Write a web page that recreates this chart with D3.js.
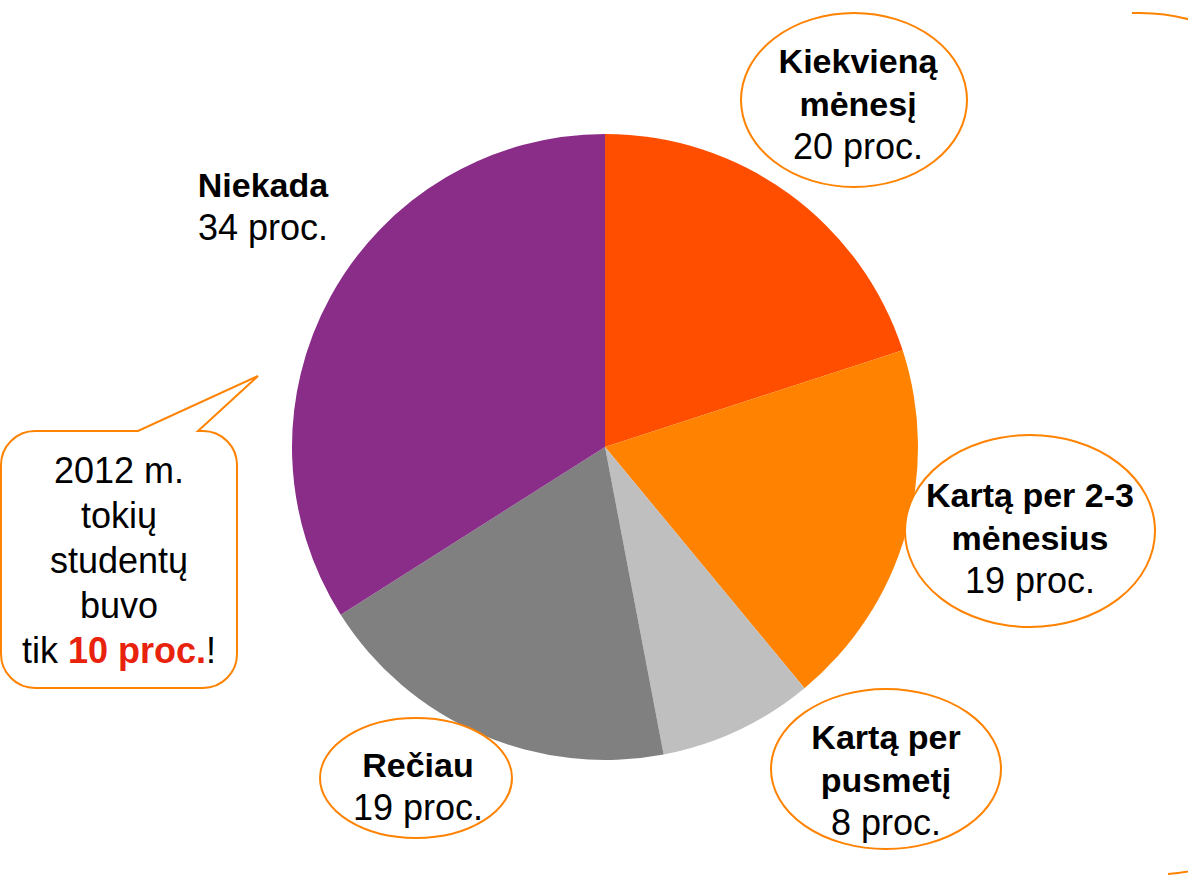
<!DOCTYPE html>
<html>
<head>
<meta charset="utf-8">
<script src="https://cdn.jsdelivr.net/npm/d3@7"></script>
<style>
  html, body { margin: 0; padding: 0; background: #fff; }
  svg { display: block; font-family: "Liberation Sans", Arial, sans-serif; }
</style>
</head>
<body>
<svg id="chart" width="1188" height="875"></svg>
<script>
// ---- data ----
const categories = ["Kiekvieną mėnesį", "Kartą per 2-3 mėnesius", "Kartą per pusmetį", "Rečiau", "Niekada"];
const values = [20, 19, 8, 19, 34];
const sliceColors = ["#FF4E00", "#FF8200", "#BFBFBF", "#808080", "#892D89"];
const labelBold = [["Kiekvieną", "mėnesį"], ["Kartą per 2-3", "mėnesius"], ["Kartą per", "pusmetį"], ["Rečiau"], ["Niekada"]];
const labelValue = ["20 proc.", "19 proc.", "8 proc.", "19 proc.", "34 proc."];
const noteLines = ["2012 m.", "tokių", "studentų", "buvo"];
const notePrefix = "tik ";
const noteHighlight = "10 proc.";
const noteSuffix = "!";

// ---- layout (positions / styles) ----
const cx = 605, cy = 447, R = 313;
const labelLayout = [
  { x: 858, y: 73, ellipse: { cx: 854, cy: 100, rx: 113, ry: 87 } },
  { x: 1030, y: 507, ellipse: { cx: 1030, cy: 531, rx: 125, ry: 96 } },
  { x: 886, y: 749, ellipse: { cx: 886, cy: 769, rx: 115, ry: 80 } },
  { x: 418, y: 777, ellipse: { cx: 416, cy: 778, rx: 96, ry: 60 } },
  { x: 263, y: 197, ellipse: null }
];
const lineH = 43;
const orange = "#FF8200";

const svg = d3.select("#chart");

// right-side partial frame (edges of a large rounded box)
svg.append("path")
  .attr("d", "M1132,13 H1140 A190,190 0 0 1 1330,203")
  .attr("fill", "none").attr("stroke", orange).attr("stroke-width", 2);
svg.append("path")
  .attr("d", "M1345,684 A190,190 0 0 1 1168,874")
  .attr("fill", "none").attr("stroke", orange).attr("stroke-width", 2);

// pie
const pie = d3.pie().sort(null).value(d => d)(values);
const arc = d3.arc().innerRadius(0).outerRadius(R);
svg.append("g").attr("transform", `translate(${cx},${cy})`)
  .selectAll("path").data(pie).join("path")
  .attr("d", arc)
  .attr("fill", (d, i) => sliceColors[i]);

// labels
categories.forEach((c, i) => {
  const L = labelLayout[i];
  if (L.ellipse) {
    svg.append("ellipse")
      .attr("cx", L.ellipse.cx).attr("cy", L.ellipse.cy)
      .attr("rx", L.ellipse.rx).attr("ry", L.ellipse.ry)
      .attr("fill", "#fff").attr("stroke", orange).attr("stroke-width", 2);
  }
  const t = svg.append("text").attr("text-anchor", "middle").attr("fill", "#000");
  labelBold[i].forEach((line, j) => {
    t.append("tspan").attr("x", L.x).attr("y", L.y + j * lineH)
      .attr("font-weight", "bold").attr("font-size", 34).text(line);
  });
  t.append("tspan").attr("x", L.x).attr("y", L.y + labelBold[i].length * lineH)
    .attr("font-size", 36).text(labelValue[i]);
});

// speech bubble
const bx = 1, by = 431, bw = 236, bh = 257, br = 34;
const tipX = 258, tipY = 376, p1 = 138, p2 = 198;
const bubblePath = `M${bx + br},${by} H${p1} L${tipX},${tipY} L${p2},${by} H${bx + bw - br}
  A${br},${br} 0 0 1 ${bx + bw},${by + br} V${by + bh - br}
  A${br},${br} 0 0 1 ${bx + bw - br},${by + bh} H${bx + br}
  A${br},${br} 0 0 1 ${bx},${by + bh - br} V${by + br}
  A${br},${br} 0 0 1 ${bx + br},${by} Z`;
svg.append("path").attr("d", bubblePath)
  .attr("fill", "#fff").attr("stroke", orange).attr("stroke-width", 2);

const nt = svg.append("text").attr("text-anchor", "middle").attr("font-size", 36).attr("fill", "#000");
noteLines.forEach((line, j) => {
  nt.append("tspan").attr("x", 119).attr("y", 483 + j * 45).text(line);
});
const last = nt.append("tspan").attr("x", 119).attr("y", 483 + 4 * 45);
last.append("tspan").text(notePrefix);
last.append("tspan").attr("fill", "#E8220C").attr("font-weight", "bold").text(noteHighlight);
last.append("tspan").text(noteSuffix);
</script>
</body>
</html>
